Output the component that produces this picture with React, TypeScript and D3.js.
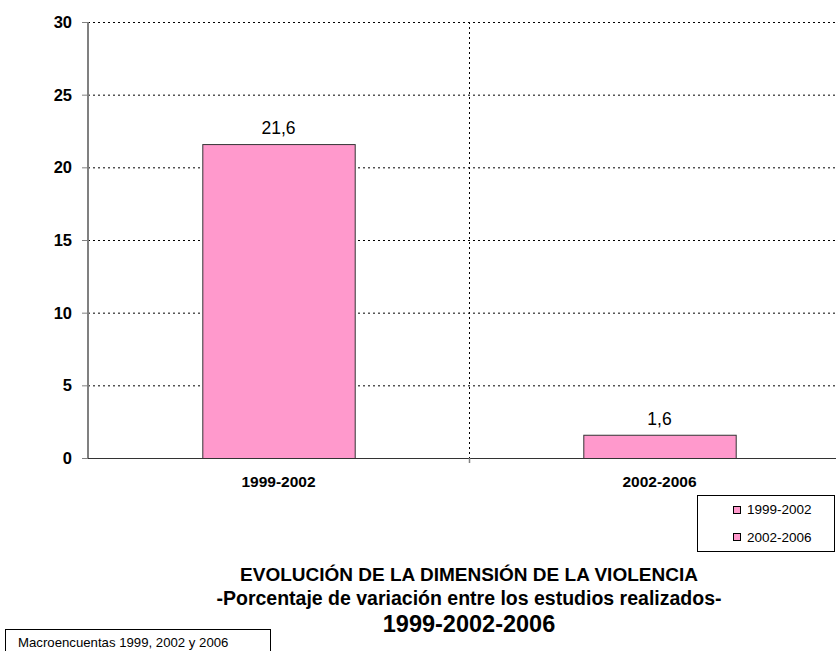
import React from "react";
import * as d3 from "d3";

const categories = ["1999-2002", "2002-2006"];
const values = [21.6, 1.6];
const valueLabels = ["21,6", "1,6"];
const yTicks = [0, 5, 10, 15, 20, 25, 30];
const legendItems = ["1999-2002", "2002-2006"];
const titleLines = [
  "EVOLUCIÓN DE LA DIMENSIÓN DE LA VIOLENCIA",
  "-Porcentaje de variación entre los estudios realizados-",
  "1999-2002-2006",
];
const sourceNote = "Macroencuentas 1999, 2002 y 2006";

const W = 836;
const H = 651;
const PINK = "#ff99cc";
const FONT = "Arial, 'Liberation Sans', sans-serif";

const App = () => {
  const left = 88;
  const right = 850;
  const top = 22;
  const bottom = 458;

  const x = d3.scaleBand().domain(categories).range([left, right]).paddingInner(0).paddingOuter(0);
  const y = d3.scaleLinear().domain([0, 30]).range([bottom, top]);
  const barW = x.bandwidth() * 0.4;

  return (
    <svg
      width={W}
      height={H}
      style={{ position: "absolute", left: 0, top: 0, fontFamily: FONT }}
    >
      <rect x={0} y={0} width={W} height={H} fill="#fff" />

      {/* horizontal grid */}
      {yTicks.slice(1).map((t) => (
        <line
          key={t}
          x1={left}
          x2={W}
          y1={y(t) + 0.5}
          y2={y(t) + 0.5}
          stroke="#000"
          strokeDasharray="2,3"
        />
      ))}

      {/* vertical category grid */}
      {categories.slice(1).map((c) => (
        <line
          key={c}
          x1={x(c)! + 0.5}
          x2={x(c)! + 0.5}
          y1={top}
          y2={bottom}
          stroke="#000"
          strokeDasharray="2,3"
        />
      ))}

      {/* bars */}
      {categories.map((c, i) => {
        const bx = x(c)! + (x.bandwidth() - barW) / 2;
        return (
          <g key={c}>
            <rect
              x={bx + 0.5}
              y={y(values[i]) + 0.5}
              width={barW}
              height={y(0) - y(values[i])}
              fill={PINK}
              stroke="#333"
              strokeWidth={1}
            />
            <text
              x={bx + barW / 2}
              y={y(values[i]) - 10}
              textAnchor="middle"
              fontSize={17.5}
              fill="#000"
            >
              {valueLabels[i]}
            </text>
            <text
              x={x(c)! + x.bandwidth() / 2}
              y={487}
              textAnchor="middle"
              fontSize={15.5}
              fontWeight="bold"
              fill="#000"
            >
              {c}
            </text>
          </g>
        );
      })}

      {/* y axis */}
      <line x1={left} x2={left} y1={top} y2={bottom} stroke="#808080" strokeWidth={2} />
      {yTicks.map((t) => (
        <g key={t}>
          <line x1={left - 6} x2={left} y1={y(t) + 0.5} y2={y(t) + 0.5} stroke="#808080" />
          <text
            x={left - 16}
            y={y(t) + 6}
            textAnchor="end"
            fontSize={16.5}
            fontWeight="bold"
            fill="#000"
          >
            {t}
          </text>
        </g>
      ))}

      {/* x axis */}
      <line x1={left} x2={W} y1={bottom + 0.5} y2={bottom + 0.5} stroke="#333" strokeWidth={1.2} />
      {categories.slice(1).map((c) => (
        <line key={c} x1={x(c)! + 0.5} x2={x(c)! + 0.5} y1={bottom} y2={bottom + 5} stroke="#808080" strokeWidth={1.5} />
      ))}

      {/* legend */}
      <rect x={697.5} y={495.5} width={137} height={56} fill="#fff" stroke="#000" />
      {legendItems.map((d, i) => (
        <g key={d}>
          <rect x={733.5} y={506.5 + i * 27} width={7} height={7} fill={PINK} stroke="#000" />
          <text x={747} y={514 + i * 28} fontSize={13.5} fill="#000">
            {d}
          </text>
        </g>
      ))}

      {/* title */}
      <text x={469} y={581} textAnchor="middle" fontSize={19} fontWeight="bold" fill="#000">
        {titleLines[0]}
      </text>
      <text x={469} y={605} textAnchor="middle" fontSize={19.5} fontWeight="bold" fill="#000">
        {titleLines[1]}
      </text>
      <text x={469} y={632} textAnchor="middle" fontSize={23.5} fontWeight="bold" fill="#000">
        {titleLines[2]}
      </text>

      {/* source note */}
      <rect x={5.5} y={629.5} width={265} height={30} fill="#fff" stroke="#000" />
      <text x={18} y={647} fontSize={13.2} fill="#000">
        {sourceNote}
      </text>
    </svg>
  );
};

export default App;
